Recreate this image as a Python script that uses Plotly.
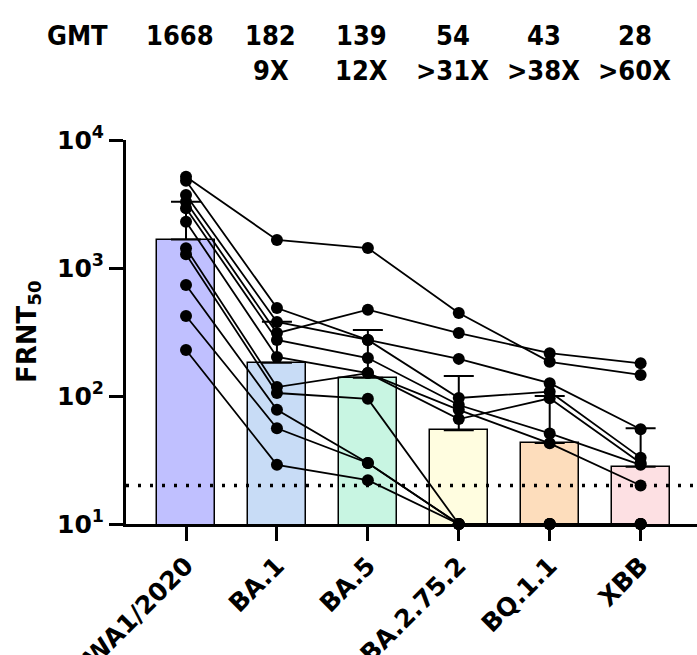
import plotly.graph_objects as go

# ---- data ----
variants = ["WA1/2020", "BA.1", "BA.5", "BA.2.75.2", "BQ.1.1", "XBB"]
gmt = [1668, 182, 139, 54, 43, 28]
fold_labels = ["", "9X", "12X", ">31X", ">38X", ">60X"]
ci_upper = [3300, 380, 328, 143, 100, 56]
bar_colors = ["#C0C0FF", "#C8DCF6", "#C8F5E2", "#FFFDE0", "#FDDDBC", "#FDE0E3"]
lod = 20

# per-donor titers across the six variants
donors = [
    [5164, 1655, 1432, 445, 185, 146],
    [4809, 487, 274, 195, 126, 55],
    [3715, 379, 274, 96.5, 108, 33],
    [3296, 310, 472, 310, 216, 180],
    [2924, 274, 198, 85, 51, 29],
    [2301, 202, 151, 66, 96, 30],
    [1426, 117.5, 151, 78, 42.7, 20],
    [1279, 105.5, 95, 10, 10, 10],
    [736, 78, 30, 10, 10, 10],
    [422, 56, 30, 10, 10, 10],
    [229, 29, 22, 10, 10, 10],
]

xpos = list(range(len(variants)))
wide_font = "DejaVu Sans, Liberation Sans, sans-serif"
narrow_font = "Liberation Sans Narrow, DejaVu Sans Condensed, Liberation Sans, sans-serif"

fig = go.Figure()
fig.add_trace(go.Bar(
    x=xpos, y=gmt, width=0.64,
    marker=dict(color=bar_colors, line=dict(color="black", width=1.5)),
    error_y=dict(type="data", symmetric=False,
                 array=[u - g for u, g in zip(ci_upper, gmt)],
                 arrayminus=[0] * len(gmt),
                 color="black", thickness=2, width=15),
    showlegend=False, hoverinfo="skip",
))

for d in donors:
    fig.add_trace(go.Scatter(
        x=xpos, y=d, mode="lines+markers",
        line=dict(color="black", width=1.8),
        marker=dict(color="black", size=12),
        cliponaxis=False, showlegend=False,
    ))

fig.add_shape(type="line", xref="paper", x0=0, x1=1, yref="y", y0=lod, y1=lod,
              line=dict(color="black", width=3.5, dash="3px,9px"), layer="above")

hdr_font = dict(size=27, family=narrow_font, color="black", weight="bold")
annots = [dict(text="GMT", xref="paper", x=(77 - 126) / 571, xanchor="center", yref="paper",
               y=1.273, yanchor="middle", showarrow=False, font=hdr_font)]
for i, g in enumerate(gmt):
    annots.append(dict(text=str(g), xref="x", x=i, xanchor="center", yref="paper", y=1.273,
                       yanchor="middle", xshift=-6, showarrow=False, font=hdr_font))
    if fold_labels[i]:
        annots.append(dict(text=fold_labels[i], xref="x", x=i, xanchor="center", yref="paper",
                           y=1.18, yanchor="middle", xshift=-6, showarrow=False, font=hdr_font))
annots.append(dict(text="FRNT<sub>50</sub>", xref="paper", x=(28 - 126) / 571, yref="paper", y=0.5,
                   xanchor="center", yanchor="middle", textangle=-90, showarrow=False,
                   font=dict(size=26, family=wide_font, color="black", weight="bold")))

fig.update_layout(
    width=697, height=655,
    margin=dict(l=126, r=0, t=140, b=131, autoexpand=False),
    paper_bgcolor="white", plot_bgcolor="white",
    annotations=annots,
    bargap=0,
)
fig.update_xaxes(
    range=[-0.66, 5.62], tickvals=xpos, ticktext=variants, tickangle=-45, automargin=False,
    showline=True, linecolor="black", linewidth=3, ticks="outside", ticklen=14,
    tickwidth=3, tickcolor="black", showgrid=False, zeroline=False,
    tickfont=dict(size=25, family=wide_font, color="black", weight="bold"),
)
fig.update_yaxes(
    type="log", range=[1, 4], automargin=False,
    tickvals=[10, 100, 1000, 10000],
    ticktext=["10<sup>1</sup>", "10<sup>2</sup>", "10<sup>3</sup>", "10<sup>4</sup>"],
    showline=True, linecolor="black", linewidth=3, ticks="outside", ticklen=14,
    tickwidth=3, tickcolor="black", showgrid=False, zeroline=False,
    tickfont=dict(size=25, family=wide_font, color="black", weight="bold"),
)

fig.write_html("out.html", config={"displayModeBar": False},
               post_script="document.body.style.margin='0';document.body.style.overflow='hidden';")
